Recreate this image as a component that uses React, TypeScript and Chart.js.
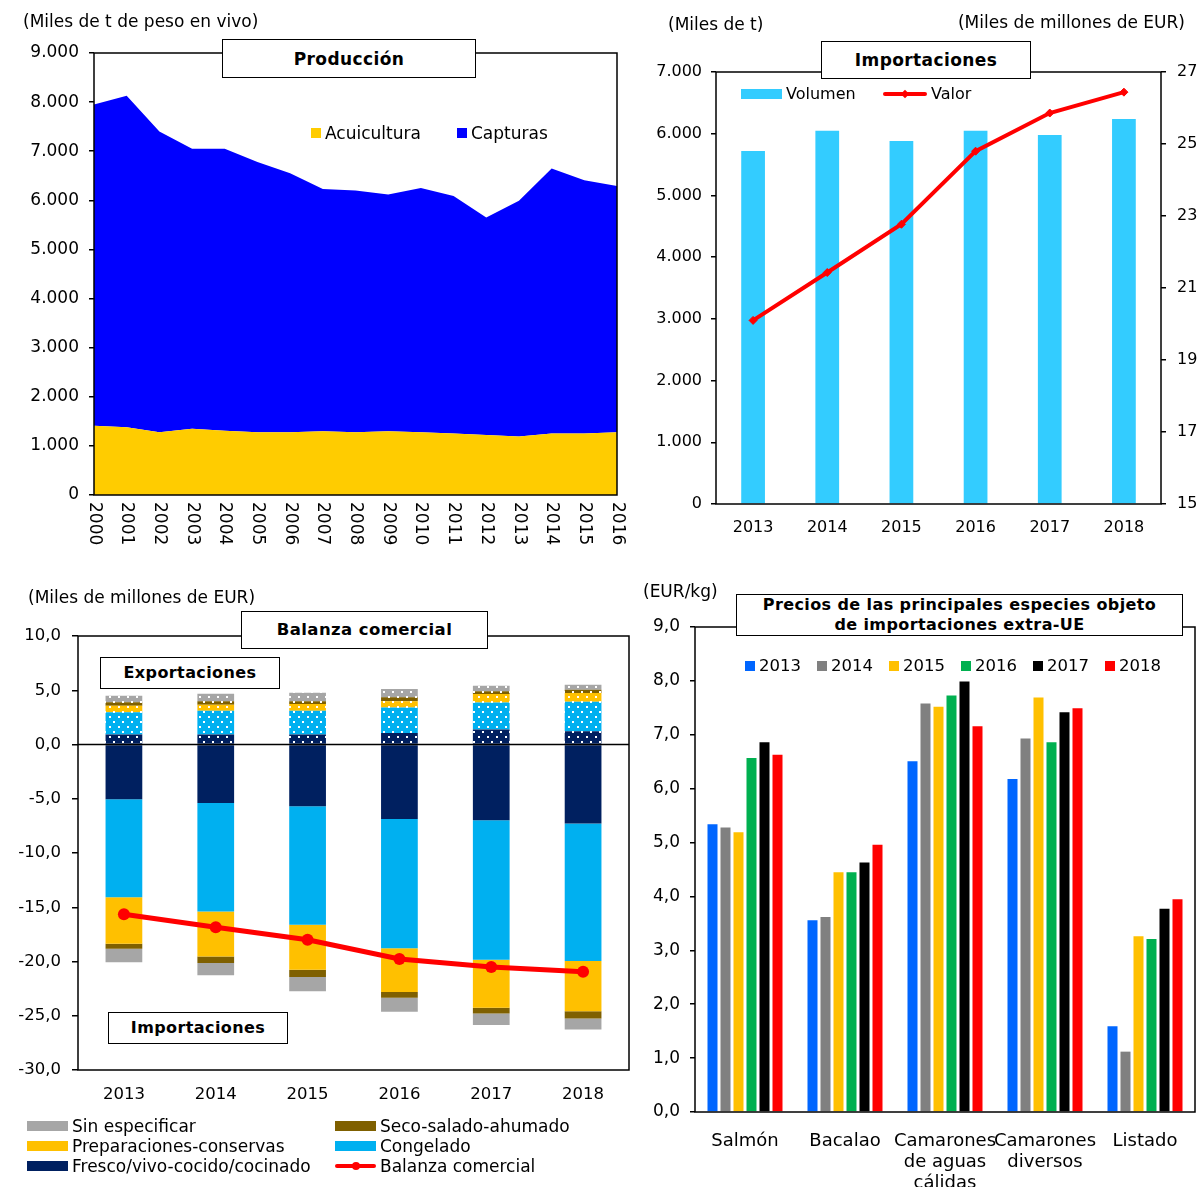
import React, { useEffect, useRef } from 'react';
import { Chart, registerables } from 'chart.js';

Chart.register(...registerables);

const FONT = "'DejaVu Sans', Verdana, sans-serif";

// ---- Producción (miles de t de peso en vivo) ----
const prodYears = ['2000', '2001', '2002', '2003', '2004', '2005', '2006', '2007', '2008', '2009', '2010', '2011', '2012', '2013', '2014', '2015', '2016'];
const acuicultura = [1410, 1380, 1280, 1350, 1310, 1280, 1280, 1300, 1280, 1300, 1280, 1250, 1220, 1190, 1250, 1250, 1280];
const capturas = [6540, 6750, 6120, 5700, 5740, 5500, 5270, 4930, 4920, 4820, 4970, 4840, 4430, 4800, 5400, 5160, 5010];

// ---- Importaciones ----
const impYears = ['2013', '2014', '2015', '2016', '2017', '2018'];
const volumen = [5720, 6050, 5880, 6050, 5980, 6240]; // miles de t
const valor = [20.1, 21.43, 22.77, 24.8, 25.86, 26.44]; // miles de millones EUR

// ---- Balanza comercial (miles de millones EUR) ----
const tradeYears = ['2013', '2014', '2015', '2016', '2017', '2018'];
const expFresco = [0.92, 0.92, 0.92, 1.07, 1.38, 1.22];
const expCongelado = [2.05, 2.2, 2.2, 2.33, 2.48, 2.73];
const expPreparaciones = [0.61, 0.55, 0.61, 0.58, 0.79, 0.79];
const expSeco = [0.31, 0.31, 0.25, 0.37, 0.25, 0.31];
const expSinEspecificar = [0.61, 0.7, 0.8, 0.76, 0.52, 0.46];
const impFresco = [-5.05, -5.39, -5.69, -6.86, -6.98, -7.28];
const impCongelado = [-9.03, -10.01, -10.93, -11.93, -12.85, -12.68];
const impPreparaciones = [-4.29, -4.13, -4.13, -4.01, -4.44, -4.62];
const impSeco = [-0.45, -0.61, -0.68, -0.55, -0.52, -0.67];
const impSinEspecificar = [-1.26, -1.13, -1.31, -1.29, -1.07, -1.01];
const balanza = [-15.64, -16.84, -18.0, -19.77, -20.51, -20.94];

// ---- Precios (EUR/kg) ----
const species = [['Salmón'], ['Bacalao'], ['Camarones', 'de aguas', 'cálidas'], ['Camarones', 'diversos'], ['Listado']];
const priceYears = ['2013', '2014', '2015', '2016', '2017', '2018'];
const price2013 = [5.34, 3.56, 6.51, 6.18, 1.59];
const price2014 = [5.28, 3.62, 7.58, 6.93, 1.12];
const price2015 = [5.19, 4.45, 7.52, 7.69, 3.26];
const price2016 = [6.57, 4.45, 7.73, 6.86, 3.21];
const price2017 = [6.86, 4.63, 7.99, 7.42, 3.77];
const price2018 = [6.63, 4.96, 7.16, 7.49, 3.95];
const priceColors = ['#0066FF', '#808080', '#FFC000', '#00B050', '#000000', '#FF0000'];

const productNames = ['Sin especificar', 'Seco-salado-ahumado', 'Preparaciones-conservas', 'Congelado', 'Fresco/vivo-cocido/cocinado'];
const productColors = ['#A6A6A6', '#7F6000', '#FFC000', '#00B0F0', '#002060'];

const fmtThousands = (v: number) => String(v).replace(/\B(?=(\d{3})+(?!\d))/g, '.');
const fmtComma = (v: number) => Number(v).toFixed(1).replace('.', ',');

// Full box around the plotting area
const framePlugin = {
  id: 'frame',
  afterDatasetsDraw(chart: any) {
    const { ctx, chartArea: a } = chart;
    ctx.save();
    ctx.strokeStyle = '#000';
    ctx.lineWidth = 1.5;
    ctx.strokeRect(a.left, a.top, a.right - a.left, a.bottom - a.top);
    ctx.restore();
  },
};

// Horizontal line at zero value
const zeroLinePlugin = {
  id: 'zeroLine',
  afterDatasetsDraw(chart: any) {
    const { ctx, chartArea: a } = chart;
    const y = chart.scales.y.getPixelForValue(0);
    ctx.save();
    ctx.strokeStyle = '#000';
    ctx.lineWidth = 1.5;
    ctx.beginPath();
    ctx.moveTo(a.left, y);
    ctx.lineTo(a.right, y);
    ctx.stroke();
    ctx.restore();
  },
};

// Year labels written top-to-bottom under the axis
const verticalYearLabels = {
  id: 'verticalYearLabels',
  afterDraw(chart: any) {
    const { ctx, chartArea } = chart;
    const xs = chart.scales.x;
    ctx.save();
    ctx.font = `17px ${FONT}`;
    ctx.fillStyle = '#000';
    ctx.textAlign = 'left';
    ctx.textBaseline = 'middle';
    prodYears.forEach((lab, i) => {
      const px = xs.getPixelForValue(i);
      ctx.save();
      ctx.translate(px, chartArea.bottom + 7);
      ctx.rotate(Math.PI / 2);
      ctx.fillText(lab, 0, 0);
      ctx.restore();
    });
    ctx.restore();
  },
};

function dotted(color: string) {
  const c = document.createElement('canvas');
  c.width = 9;
  c.height = 10;
  const g = c.getContext('2d')!;
  g.fillStyle = color;
  g.fillRect(0, 0, 9, 10);
  g.fillStyle = '#FFFFFF';
  g.fillRect(1, 1, 2, 2);
  g.fillRect(5, 6, 2, 2);
  return g.createPattern(c, 'repeat');
}

const tickGrid = (len: number) => ({ drawOnChartArea: false, drawTicks: true, tickLength: len, color: '#000', lineWidth: 1.5 });

function useChart(ref: React.RefObject<HTMLCanvasElement>, make: (c: HTMLCanvasElement) => Chart) {
  useEffect(() => {
    if (!ref.current) return;
    const ch = make(ref.current);
    return () => ch.destroy();
  }, []);
}

const baseOptions = {
  animation: false as const,
  responsive: false,
  events: [] as any[],
};

function Canvas({ cref, left, top, width, height }: any) {
  return (
    <canvas
      ref={cref}
      width={width}
      height={height}
      style={{ position: 'absolute', left, top, width, height }}
    />
  );
}

function Text({ x, y, children, size = 17, bold = false, right }: any) {
  const style: any = {
    position: 'absolute',
    top: y,
    transform: 'translateY(-50%)',
    fontFamily: FONT,
    fontSize: size,
    fontWeight: bold ? 'bold' : 'normal',
    whiteSpace: 'nowrap',
    lineHeight: 1.2,
    color: '#000',
  };
  if (right !== undefined) style.right = 1198 - right;
  else style.left = x;
  return <div style={style}>{children}</div>;
}

function TitleBox({ left, top, width, height, children, size = 17, spacing = 0.4 }: any) {
  return (
    <div
      style={{
        position: 'absolute',
        left,
        top,
        width,
        height,
        boxSizing: 'border-box',
        border: '1.5px solid #000',
        background: '#fff',
        display: 'flex',
        alignItems: 'center',
        justifyContent: 'center',
        textAlign: 'center',
        fontFamily: FONT,
        fontWeight: 'bold',
        fontSize: size,
        lineHeight: '20px',
        letterSpacing: spacing,
        color: '#000',
      }}
    >
      {children}
    </div>
  );
}

function Swatch({ color, w = 10, h = 10 }: any) {
  return <span style={{ display: 'inline-block', width: w, height: h, background: color, marginRight: 4, flex: 'none' }} />;
}

function LineSwatch({ w, marker }: any) {
  return (
    <span style={{ position: 'relative', display: 'inline-block', width: w, height: 12, marginRight: 4, flex: 'none' }}>
      <span style={{ position: 'absolute', left: 0, right: 0, top: 4, height: 4, background: '#FF0000', borderRadius: 2 }} />
      {marker === 'circle' ? (
        <span style={{ position: 'absolute', left: w / 2 - 4, top: 2, width: 8, height: 8, borderRadius: 4, background: '#FF0000' }} />
      ) : (
        <span style={{ position: 'absolute', left: w / 2 - 3, top: 3, width: 6, height: 6, background: '#FF0000', transform: 'rotate(45deg)' }} />
      )}
    </span>
  );
}

export default function App() {
  const prodRef = useRef<HTMLCanvasElement>(null);
  const impRef = useRef<HTMLCanvasElement>(null);
  const balRef = useRef<HTMLCanvasElement>(null);
  const priceRef = useRef<HTMLCanvasElement>(null);

  useChart(prodRef, (c) =>
    new Chart(c, {
      type: 'line',
      data: {
        labels: prodYears,
        datasets: [
          { label: 'Acuicultura', data: acuicultura, fill: 'origin', backgroundColor: '#FFCC00', borderWidth: 0, pointRadius: 0 },
          { label: 'Capturas', data: capturas, fill: '-1', backgroundColor: '#0000FF', borderWidth: 0, pointRadius: 0 },
        ],
      },
      options: {
        ...baseOptions,
        layout: { padding: { left: 0, top: 53, right: 23, bottom: 55 } },
        plugins: { legend: { display: false }, tooltip: { enabled: false } },
        scales: {
          x: {
            offset: false,
            grid: { display: false },
            border: { display: false },
            ticks: { display: false },
            afterFit: (s: any) => { s.height = 20; },
          },
          y: {
            stacked: true,
            min: 0,
            max: 9000,
            ticks: { stepSize: 1000, callback: (v: any) => fmtThousands(v), font: { size: 17, family: FONT }, color: '#000', padding: 10 },
            grid: tickGrid(5),
            border: { display: false },
            afterFit: (s: any) => { s.width = 94; },
          },
        },
      } as any,
      plugins: [framePlugin, verticalYearLabels],
    })
  );

  useChart(impRef, (c) =>
    new Chart(c, {
      type: 'bar',
      data: {
        labels: impYears,
        datasets: [
          {
            type: 'line', label: 'Valor', data: valor, yAxisID: 'y1', borderColor: '#FF0000', backgroundColor: '#FF0000',
            borderWidth: 4, pointStyle: 'rectRot', pointRadius: 4, pointBorderWidth: 1, order: 0,
          },
          {
            type: 'bar', label: 'Volumen', data: volumen, yAxisID: 'y', backgroundColor: '#33CCFF',
            barPercentage: 0.32, categoryPercentage: 1, order: 1,
          },
        ],
      } as any,
      options: {
        ...baseOptions,
        layout: { padding: { left: 0, top: 72, right: 0, bottom: 6 } },
        plugins: { legend: { display: false }, tooltip: { enabled: false } },
        scales: {
          x: {
            grid: { display: false },
            border: { display: false },
            ticks: { font: { size: 16, family: FONT }, color: '#000', padding: 6 },
            afterFit: (s: any) => { s.height = 40; },
          },
          y: {
            position: 'left',
            min: 0,
            max: 7000,
            ticks: { stepSize: 1000, callback: (v: any) => fmtThousands(v), font: { size: 16, family: FONT }, color: '#000', padding: 9 },
            grid: tickGrid(5),
            border: { display: false },
            afterFit: (s: any) => { s.width = 76; },
          },
          y1: {
            position: 'right',
            min: 15,
            max: 27,
            ticks: { stepSize: 2, font: { size: 16, family: FONT }, color: '#000', padding: 11 },
            grid: tickGrid(5),
            border: { display: false },
            afterFit: (s: any) => { s.width = 37; },
          },
        },
      } as any,
      plugins: [framePlugin],
    })
  );

  useChart(balRef, (c) => {
    const exportSets = [expFresco, expCongelado, expPreparaciones, expSeco, expSinEspecificar];
    const importSets = [impFresco, impCongelado, impPreparaciones, impSeco, impSinEspecificar];
    // index into productNames / productColors (legend order) for each stacked layer
    const layerIdx = [4, 3, 2, 1, 0];
    const bars: any[] = [];
    exportSets.forEach((d, i) => {
      bars.push({
        type: 'bar', label: productNames[layerIdx[i]] + ' (exp.)', data: d, stack: 'trade',
        backgroundColor: dotted(productColors[layerIdx[i]]), barPercentage: 0.4, categoryPercentage: 1, order: 1,
      });
    });
    importSets.forEach((d, i) => {
      bars.push({
        type: 'bar', label: productNames[layerIdx[i]] + ' (imp.)', data: d, stack: 'trade',
        backgroundColor: productColors[layerIdx[i]], barPercentage: 0.4, categoryPercentage: 1, order: 1,
      });
    });
    return new Chart(c, {
      type: 'bar',
      data: {
        labels: tradeYears,
        datasets: [
          {
            type: 'line', label: 'Balanza comercial', data: balanza, stack: 'balance', borderColor: '#FF0000',
            backgroundColor: '#FF0000', borderWidth: 5, pointRadius: 6, pointBorderWidth: 0, order: 0,
          },
          ...bars,
        ],
      } as any,
      options: {
        ...baseOptions,
        layout: { padding: { left: 0, top: 61, right: 11, bottom: 81 } },
        plugins: { legend: { display: false }, tooltip: { enabled: false } },
        scales: {
          x: {
            stacked: true,
            grid: { display: false },
            border: { display: false },
            ticks: { font: { size: 16.5, family: FONT }, color: '#000', padding: 7 },
            afterFit: (s: any) => { s.height = 40; },
          },
          y: {
            stacked: true,
            min: -30,
            max: 10,
            ticks: { stepSize: 5, callback: (v: any) => fmtComma(v), font: { size: 16.5, family: FONT }, color: '#000', padding: 11 },
            grid: tickGrid(6),
            border: { display: false },
            afterFit: (s: any) => { s.width = 78; },
          },
        },
      } as any,
      plugins: [zeroLinePlugin, framePlugin],
    });
  });

  useChart(priceRef, (c) => {
    const series = [price2013, price2014, price2015, price2016, price2017, price2018];
    return new Chart(c, {
      type: 'bar',
      data: {
        labels: species,
        datasets: series.map((d, i) => ({
          label: priceYears[i], data: d, backgroundColor: priceColors[i], barPercentage: 0.77, categoryPercentage: 0.78,
        })),
      } as any,
      options: {
        ...baseOptions,
        layout: { padding: { left: 0, top: 52, right: 3, bottom: 4 } },
        plugins: { legend: { display: false }, tooltip: { enabled: false } },
        scales: {
          x: {
            grid: { display: false },
            border: { display: false },
            ticks: {
              font: { size: 18, family: FONT, lineHeight: 1.17 }, color: '#000', padding: 11,
              autoSkip: false, maxRotation: 0, minRotation: 0,
            },
            afterFit: (s: any) => { s.height = 75; },
          },
          y: {
            min: 0,
            max: 9,
            ticks: { stepSize: 1, callback: (v: any) => fmtComma(v), font: { size: 17, family: FONT }, color: '#000', padding: 10 },
            grid: tickGrid(5),
            border: { display: false },
            afterFit: (s: any) => { s.width = 55; },
          },
        },
      } as any,
      plugins: [framePlugin],
    });
  });

  const legendText = { fontFamily: FONT, fontSize: 17, color: '#000', whiteSpace: 'nowrap' as const, lineHeight: '20px' };

  return (
    <div style={{ position: 'absolute', left: 0, top: 0, width: 1198, height: 1191, background: '#fff', overflow: 'hidden' }}>
      <Canvas cref={prodRef} left={0} top={0} width={640} height={570} />
      <Canvas cref={impRef} left={640} top={0} width={558} height={550} />
      <Canvas cref={balRef} left={0} top={575} width={640} height={616} />
      <Canvas cref={priceRef} left={640} top={575} width={558} height={616} />

      {/* Producción */}
      <Text x={23} y={21}>(Miles de t de peso en vivo)</Text>
      <TitleBox left={222} top={39} width={254} height={39}>Producción</TitleBox>
      <div style={{ position: 'absolute', left: 311, top: 123, display: 'flex', ...legendText }}>
        {[['Acuicultura', '#FFCC00'], ['Capturas', '#0000FF']].map(([name, col]) => (
          <div key={name} style={{ width: 146, display: 'flex', alignItems: 'center' }}>
            <Swatch color={col} />
            <span>{name}</span>
          </div>
        ))}
      </div>

      {/* Importaciones */}
      <Text x={668} y={24}>(Miles de t)</Text>
      <Text right={1185} y={22}>(Miles de millones de EUR)</Text>
      <TitleBox left={821} top={41} width={210} height={38}>Importaciones</TitleBox>
      <div style={{ position: 'absolute', left: 741, top: 84, display: 'flex', ...legendText, fontSize: 16 }}>
        <div style={{ width: 142, display: 'flex', alignItems: 'center' }}>
          <Swatch color="#33CCFF" w={41} h={10} />
          <span>Volumen</span>
        </div>
        <div style={{ display: 'flex', alignItems: 'center' }}>
          <LineSwatch w={44} marker="diamond" />
          <span>Valor</span>
        </div>
      </div>

      {/* Balanza comercial */}
      <Text x={28} y={597}>(Miles de millones de EUR)</Text>
      <TitleBox left={241} top={611} width={247} height={38} size={16.5}>Balanza comercial</TitleBox>
      <TitleBox left={100} top={657} width={180} height={32} size={16}>Exportaciones</TitleBox>
      <TitleBox left={108} top={1012} width={180} height={32} size={16}>Importaciones</TitleBox>
      <div
        style={{
          position: 'absolute', left: 27, top: 1116, display: 'grid', gridTemplateColumns: '308px 260px',
          ...legendText,
        }}
      >
        {productNames.map((name, i) => (
          <div key={name} style={{ display: 'flex', alignItems: 'center', height: 20 }}>
            <Swatch color={productColors[i]} w={41} h={10} />
            <span>{name}</span>
          </div>
        ))}
        <div style={{ display: 'flex', alignItems: 'center', height: 20 }}>
          <LineSwatch w={41} marker="circle" />
          <span>Balanza comercial</span>
        </div>
      </div>

      {/* Precios */}
      <Text x={643} y={591}>(EUR/kg)</Text>
      <TitleBox left={736} top={594} width={447} height={42} size={16}>
        Precios de las principales especies objeto
        <br />
        de importaciones extra-UE
      </TitleBox>
      <div style={{ position: 'absolute', left: 745, top: 656, display: 'flex', ...legendText, fontSize: 16.5 }}>
        {priceYears.map((y, i) => (
          <div key={y} style={{ width: 72, display: 'flex', alignItems: 'center' }}>
            <Swatch color={priceColors[i]} />
            <span>{y}</span>
          </div>
        ))}
      </div>
    </div>
  );
}
